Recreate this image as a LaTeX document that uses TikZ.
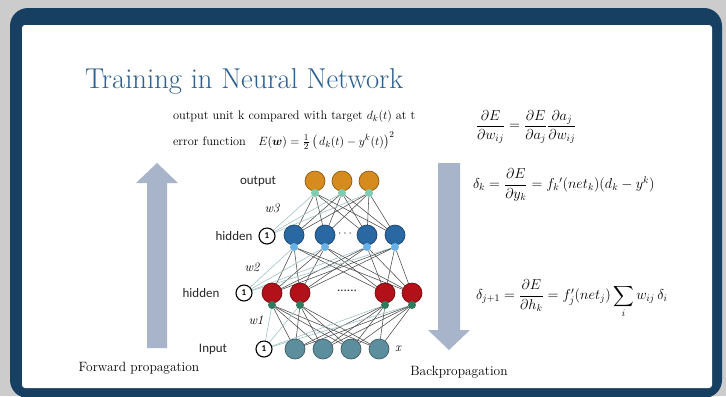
\documentclass[tikz,border=0pt]{standalone}
\usepackage{amsmath}
\usepackage{fontspec}
\usepackage{tikz}
\usetikzlibrary{arrows}
\newfontfamily\labelfont{Carlito}
\pgfdeclarelayer{back}
\pgfdeclarelayer{links}
\pgfsetlayers{back,links,main}

\begin{document}
\begin{tikzpicture}[x=1bp, y=-1bp,
    %Option for nice arrows
    >=stealth, %
    inner sep=0pt, outer sep=0pt,%
    unit/.style={circle, minimum size=20bp, line width=0.7pt, draw=#1!65!black, fill=#1},
    dot/.style={circle, minimum size=8bp, fill=#1},
    bias/.style={circle, minimum size=16bp, line width=1.1pt, draw=black, fill=white,
        font=\labelfont\fontsize{9}{9}\selectfont\bfseries},
    link/.style={color=edgegr, line width=0.55pt},
    biaslink/.style={color=biasln, line width=0.6pt},
    layer/.style={font=\labelfont\fontsize{13}{14}\selectfont, text=black!85},
    weight/.style={font=\fontsize{13}{14}\selectfont\itshape},
    bigarrow/.style={fill=arrowgr},
]
    % Colors
    \definecolor{framebl}{HTML}{163F62}
    \definecolor{titlebl}{HTML}{2C5F8D}
    \definecolor{arrowgr}{HTML}{A8B4C9}
    \definecolor{outor}{HTML}{D68B1E}
    \definecolor{hidbl}{HTML}{2A68A3}
    \definecolor{hidrd}{HTML}{B3111A}
    \definecolor{inpt}{HTML}{5D8E9E}
    \definecolor{dotgr}{HTML}{7ECDB0}
    \definecolor{dotbl}{HTML}{6AB2E6}
    \definecolor{dotdk}{HTML}{2E7A5E}
    \definecolor{edgegr}{HTML}{4A4A4A}
    \definecolor{biasln}{HTML}{A2C4C6}

    % Frame
    \useasboundingbox (0,0) rectangle (726,396);
    \begin{pgfonlayer}{back}
    \fill[gray!40] (0,0) rectangle (726,396);
    \fill[framebl, rounded corners=18bp] (10,8) rectangle (722,398);
    \fill[white, rounded corners=3bp] (22,25) rectangle (712,388);
    \end{pgfonlayer}

    % Title and error
    \node[anchor=base west, text=titlebl, font=\fontsize{28.8}{32}\selectfont] (title) at (85,88) {Training in Neural Network};
    \node[anchor=base west, font=\fontsize{12.4}{13}\selectfont] (target) at (173,119)
        {output unit k compared with target $d_k(t)$ at t};
    \node[anchor=base west, font=\fontsize{12.4}{13}\selectfont] (error) at (173,145)
        {error function\quad $E(\boldsymbol{w}) = \tfrac{1}{2}\,\bigl(\,d_k(t) - y^k(t)\bigr)^2$};

    % Gradients
    \node[anchor=west, font=\fontsize{14}{16}\selectfont] (grad) at (476,127)
        {$\dfrac{\partial E}{\partial w_{ij}} = \dfrac{\partial E}{\partial a_j}\dfrac{\partial a_j}{\partial w_{ij}}$};
    \node[anchor=west, font=\fontsize{14}{16}\selectfont] (deltak) at (473,185)
        {$\delta_k = \dfrac{\partial E}{\partial y_k} = f_k{}'(net_k)(d_k - y^k)$};
    \node[anchor=west, font=\fontsize{14}{16}\selectfont] (deltaj) at (476,299)
        {$\delta_{j+1} = \dfrac{\partial E}{\partial h_k} = f_j'(net_j)\displaystyle\sum_i w_{ij}\,\delta_i$};

    % Propagation arrows
    \fill[bigarrow] (147,348) -- (147,183) -- (136,183) -- (157,163) -- (178,183) -- (167,183) -- (167,348) -- cycle;
    \fill[bigarrow] (438,163) -- (460,163) -- (460,330) -- (470,330) -- (449,350) -- (428,330) -- (438,330) -- cycle;
    \node[font=\fontsize{13.5}{15}\selectfont] (fwd) at (139,368) {Forward propagation};
    \node[font=\fontsize{13.5}{15}\selectfont] (bwd) at (459,372) {Backpropagation};

    % Input layer
    \foreach \n/\x in {1/295,2/323,3/351,4/379}
        \node[unit=inpt] (i\n) at (\x,349) {};
    \node[bias] (b0) at (264,349) {1};
    \node[layer] (lin) at (213,349) {Input};
    \node[weight] (lx) at (398,349) {x};

    % First hidden layer
    \foreach \n/\x in {1/272,2/300,3/385,4/412} {
        \node[unit=hidrd] (h\n) at (\x,293) {};
        \node[dot=dotdk] (hd\n) at (\x,305) {};
    }
    \node[bias] (b1) at (244,293) {1};
    \node[layer] (lh1) at (201,293) {hidden};
    \node[layer] (hdots) at (347,291) {......};
    \node[weight] (w1) at (256,320) {w1};

    % Second hidden layer
    \foreach \n/\x in {1/294,2/325,3/367,4/395} {
        \node[unit=hidbl] (g\n) at (\x,235) {};
        \node[dot=dotbl] (gd\n) at (\x,247) {};
    }
    \node[bias] (b2) at (267,236) {1};
    \node[layer] (lh2) at (234,236) {hidden};
    \node[layer] (gdots) at (346,234) {$\cdots$};
    \node[weight] (w2) at (252,267) {w2};

    % Output layer
    \foreach \n/\x in {1/315,2/342,3/369} {
        \node[unit=outor] (o\n) at (\x,181) {};
        \node[dot=dotgr] (od\n) at (\x,193) {};
    }
    \node[layer] (lout) at (258,181) {output};
    \node[weight] (w3) at (272,208) {w3};

    % Weights
    \begin{pgfonlayer}{links}
    \foreach \j in {1,...,4} {
        \draw[biaslink] (b0) -- (hd\j);
        \draw[biaslink] (b1) -- (gd\j);
        \foreach \i in {1,...,4} {
            \draw[link] (i\i) -- (hd\j);
            \draw[link] (h\i) -- (gd\j);
        }
    }
    \foreach \j in {1,2,3} {
        \draw[biaslink] (b2) -- (od\j);
        \foreach \i in {1,...,4}
            \draw[link] (g\i) -- (od\j);
    }
    \end{pgfonlayer}
\end{tikzpicture}
\end{document}
